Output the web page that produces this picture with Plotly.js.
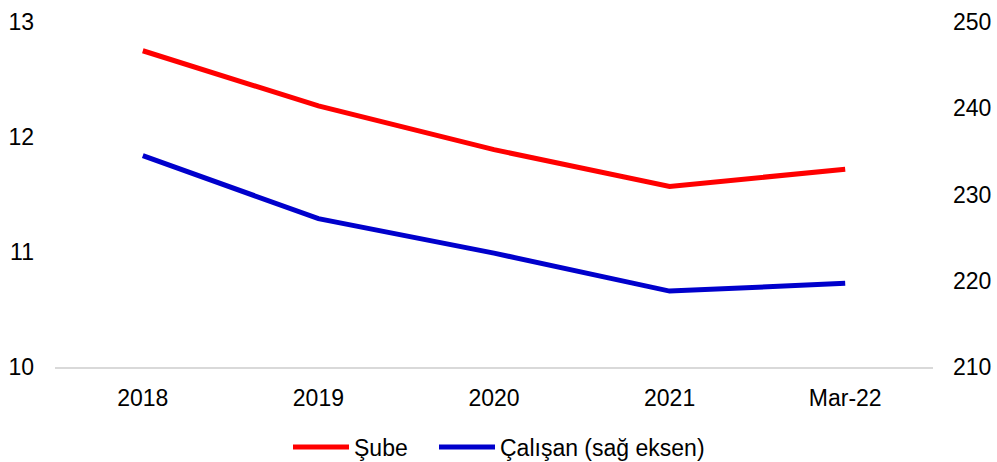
<!DOCTYPE html>
<html>
<head>
<meta charset="utf-8">
<script src="https://cdn.plot.ly/plotly-3.0.1.min.js"></script>
<style>html,body{margin:0;padding:0;background:#fff;}#chart{width:997px;height:462px;}</style>
</head>
<body>
<div id="chart"></div>
<script>
const categories = ["2018", "2019", "2020", "2021", "Mar-22"];
const subeValues = [12.75, 12.27, 11.89, 11.57, 11.72];
const calisanValues = [234.5, 227.2, 223.2, 218.8, 219.7];
const leftTicks = [10, 11, 12, 13];
const rightTicks = [210, 220, 230, 240, 250];

const font = {family: "Liberation Sans, Arial, sans-serif", size: 23, color: "#000"};

const traces = [
  {x: categories, y: subeValues, name: "Şube", type: "scatter", mode: "lines",
   line: {color: "#ff0000", width: 5}, yaxis: "y", legend: "legend"},
  {x: categories, y: calisanValues, name: "Çalışan (sağ eksen)", type: "scatter", mode: "lines",
   line: {color: "#0000cc", width: 5}, yaxis: "y2", legend: "legend2"}
];

const legendBase = {orientation: "h", xanchor: "left", xref: "container",
  y: 15 / 462, yanchor: "middle", yref: "container", font: font, itemwidth: 56,
  bgcolor: "rgba(0,0,0,0)"};

const layout = {
  width: 997, height: 462,
  margin: {l: 55, r: 64, t: 22, b: 95, autoexpand: false},
  paper_bgcolor: "#fff", plot_bgcolor: "#fff",
  font: font,
  showlegend: true,
  legend: Object.assign({}, legendBase, {x: 288 / 997}),
  legend2: Object.assign({}, legendBase, {x: 434 / 997}),
  xaxis: {type: "category", range: [-0.5, 4.5], showgrid: false, zeroline: false,
          showline: true, linecolor: "#d9d9d9", linewidth: 2, ticks: "",
          ticklabelstandoff: 9, tickfont: font, automargin: false},
  yaxis: {range: [10, 13], tickvals: leftTicks, showgrid: false, zeroline: false,
          showline: false, ticks: "", ticklabelstandoff: 20, tickfont: font, automargin: false},
  yaxis2: {range: [210, 250], tickvals: rightTicks, overlaying: "y", side: "right",
           showgrid: false, zeroline: false, showline: false, ticks: "",
           ticklabelstandoff: 19, tickfont: font, automargin: false}
};

Plotly.newPlot("chart", traces, layout, {displayModeBar: false, staticPlot: true});
</script>
</body>
</html>
